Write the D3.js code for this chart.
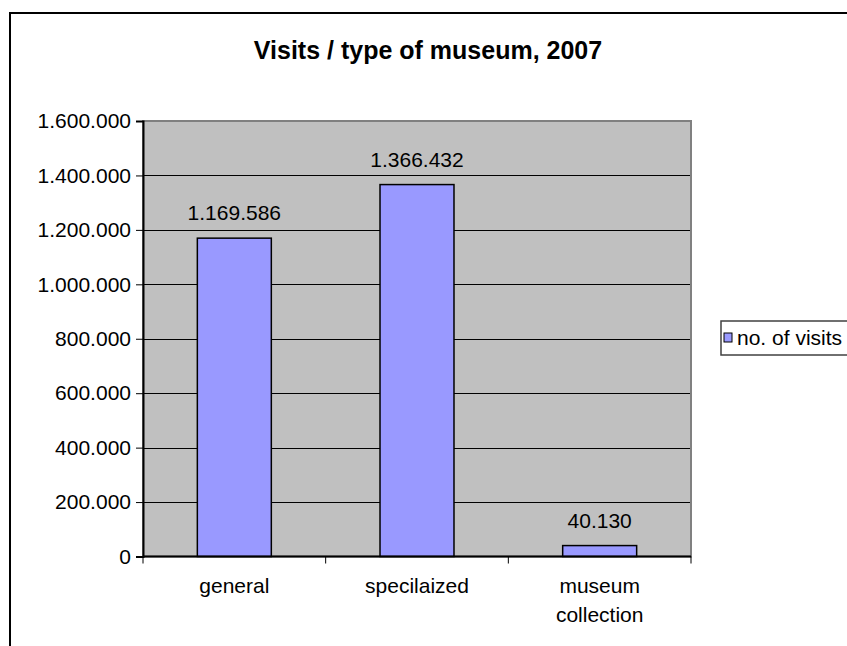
<!DOCTYPE html>
<html><head><meta charset="utf-8">
<script src="https://cdn.jsdelivr.net/npm/d3@7"></script>
<style>html,body{margin:0;padding:0;background:#fff;}svg{display:block;}</style>
</head><body>
<svg id="chart" width="847" height="646"></svg>
<script>
const title = "Visits / type of museum, 2007";
const categories = [["general"], ["specilaized"], ["museum", "collection"]];
const values = [1169586, 1366432, 40130];
const valueLabels = ["1.169.586", "1.366.432", "40.130"];
const yTicks = [0, 200000, 400000, 600000, 800000, 1000000, 1200000, 1400000, 1600000];
const yTickLabels = ["0", "200.000", "400.000", "600.000", "800.000", "1.000.000", "1.200.000", "1.400.000", "1.600.000"];
const seriesName = "no. of visits";

const svg = d3.select("#chart");
const font = "Liberation Sans, Arial, sans-serif";
const fs = 21;
const L = 143, R = 691, T = 121, B = 556.5;

// outer frame
svg.append("rect").attr("x", 10).attr("y", 13).attr("width", 860).attr("height", 700)
  .attr("fill", "#fff").attr("stroke", "#000").attr("stroke-width", 2);

svg.append("text").attr("x", 428).attr("y", 59).attr("text-anchor", "middle")
  .attr("font-family", font).attr("font-weight", "bold").attr("font-size", 25).text(title);

const x = d3.scaleBand().domain(d3.range(values.length)).range([L, R]).paddingInner(0.595).paddingOuter(0.2975);
const y = d3.scaleLinear().domain([0, 1600000]).range([B, T]);

svg.append("rect").attr("x", L).attr("y", T).attr("width", R - L).attr("height", B - T).attr("fill", "#C0C0C0");

// gridlines
svg.append("g").selectAll("line").data(yTicks.filter(d => d > 0 && d < 1600000)).join("line")
  .attr("x1", L).attr("x2", R).attr("y1", d => Math.round(y(d)) + 0.5).attr("y2", d => Math.round(y(d)) + 0.5)
  .attr("stroke", "#000").attr("stroke-width", 1);

// plot border
svg.append("rect").attr("x", L).attr("y", T).attr("width", R - L).attr("height", B - T)
  .attr("fill", "none").attr("stroke", "#808080").attr("stroke-width", 2);

// bars
svg.append("g").selectAll("rect").data(values).join("rect")
  .attr("x", (d, i) => x(i)).attr("width", x.bandwidth())
  .attr("y", d => y(d)).attr("height", d => B - y(d))
  .attr("fill", "#9999FF").attr("stroke", "#000").attr("stroke-width", 1.5);

// value labels
svg.append("g").selectAll("text").data(values).join("text")
  .attr("x", (d, i) => x(i) + x.bandwidth() / 2).attr("y", d => y(d) - 18)
  .attr("text-anchor", "middle").attr("font-family", font).attr("font-size", fs)
  .text((d, i) => valueLabels[i]);

// y axis
const yAxis = d3.axisLeft(y).tickValues(yTicks).tickFormat((d, i) => yTickLabels[i]).tickSize(7).tickPadding(5);
const gy = svg.append("g").attr("transform", `translate(${L},0)`).call(yAxis);
gy.select(".domain").attr("stroke", "#000").attr("stroke-width", 2);
gy.selectAll(".tick line").attr("stroke", "#000");
gy.selectAll(".tick text").attr("font-family", font).attr("font-size", fs).attr("fill", "#000");

// x axis
const bounds = d3.range(values.length + 1).map(i => L + i * (R - L) / values.length);
svg.append("line").attr("x1", L).attr("x2", R).attr("y1", B).attr("y2", B).attr("stroke", "#000").attr("stroke-width", 2);
svg.append("g").selectAll("line").data(bounds).join("line")
  .attr("x1", d => d).attr("x2", d => d).attr("y1", B).attr("y2", B + 7).attr("stroke", "#000");
const xl = svg.append("g").selectAll("text").data(categories).join("text")
  .attr("x", (d, i) => x(i) + x.bandwidth() / 2).attr("y", 593)
  .attr("text-anchor", "middle").attr("font-family", font).attr("font-size", fs);
xl.each(function(d, i) {
  const t = d3.select(this);
  d.forEach((line, j) => t.append("tspan").attr("x", x(i) + x.bandwidth() / 2).attr("dy", j === 0 ? 0 : 29).text(line));
});

// legend
svg.append("rect").attr("x", 721).attr("y", 321).attr("width", 140).attr("height", 34)
  .attr("fill", "#fff").attr("stroke", "#404040").attr("stroke-width", 1.5);
svg.append("rect").attr("x", 724).attr("y", 333).attr("width", 8).attr("height", 9)
  .attr("fill", "#9999FF").attr("stroke", "#000").attr("stroke-width", 1);
svg.append("text").attr("x", 737).attr("y", 345).attr("font-family", font).attr("font-size", fs).text(seriesName);
</script>
</body></html>
